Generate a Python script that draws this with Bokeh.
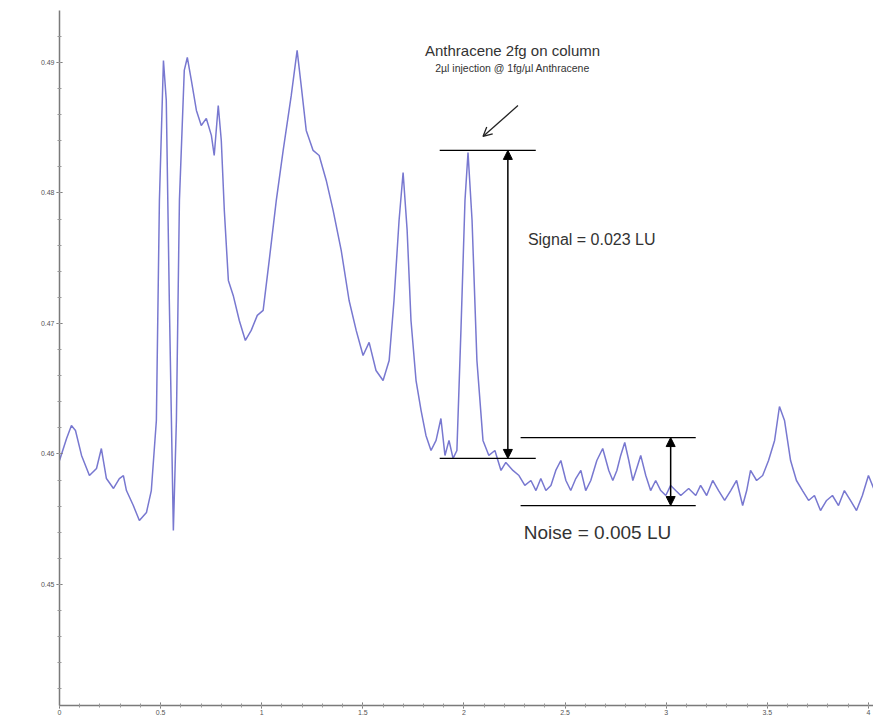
from bokeh.plotting import figure
from bokeh.models import Range1d, SingleIntervalTicker, Arrow, NormalHead, OpenHead, Label, ColumnDataSource
from bokeh.embed import file_html
from bokeh.resources import INLINE

# Retention time (min) and detector response (LU)
time_min = [0.000, 0.035, 0.059, 0.079, 0.109, 0.148, 0.183, 0.207, 0.232, 0.267,
            0.296, 0.316, 0.331, 0.365, 0.395, 0.430, 0.454, 0.479, 0.494, 0.514,
            0.528, 0.543, 0.563, 0.578, 0.593, 0.617, 0.632, 0.652, 0.677, 0.701,
            0.726, 0.751, 0.765, 0.785, 0.800, 0.815, 0.835, 0.859, 0.889, 0.919,
            0.948, 0.978, 1.007, 1.037, 1.072, 1.106, 1.146, 1.175, 1.195, 1.220,
            1.254, 1.284, 1.319, 1.353, 1.393, 1.432, 1.467, 1.501, 1.531, 1.565,
            1.600, 1.630, 1.654, 1.679, 1.699, 1.719, 1.738, 1.763, 1.788, 1.812,
            1.837, 1.862, 1.886, 1.906, 1.926, 1.946, 1.965, 1.985, 2.005, 2.020,
            2.040, 2.064, 2.094, 2.123, 2.153, 2.183, 2.207, 2.242, 2.272, 2.301,
            2.331, 2.356, 2.380, 2.405, 2.430, 2.454, 2.479, 2.504, 2.528, 2.553,
            2.578, 2.602, 2.627, 2.657, 2.686, 2.716, 2.736, 2.756, 2.775, 2.795,
            2.815, 2.835, 2.854, 2.874, 2.899, 2.923, 2.948, 2.973, 2.998, 3.022,
            3.047, 3.072, 3.111, 3.146, 3.170, 3.200, 3.230, 3.259, 3.289, 3.319,
            3.348, 3.378, 3.398, 3.417, 3.447, 3.477, 3.506, 3.536, 3.560, 3.585,
            3.615, 3.644, 3.674, 3.704, 3.733, 3.763, 3.793, 3.822, 3.852, 3.881,
            3.911, 3.941, 3.970, 4.000, 4.030]
response_lu = [0.45950, 0.46119, 0.46218, 0.46180, 0.45989, 0.45835, 0.45889, 0.46042, 0.45812, 0.45736,
               0.45812, 0.45835, 0.45720, 0.45605, 0.45490, 0.45552, 0.45720, 0.46257, 0.47943, 0.49015,
               0.48709, 0.47176, 0.45414, 0.46257, 0.47943, 0.48939, 0.49038, 0.48862, 0.48632, 0.48517,
               0.48571, 0.48441, 0.48287, 0.48670, 0.48402, 0.47866, 0.47330, 0.47215, 0.47023, 0.46870,
               0.46947, 0.47062, 0.47100, 0.47483, 0.47943, 0.48326, 0.48747, 0.49092, 0.48824, 0.48479,
               0.48326, 0.48287, 0.48096, 0.47866, 0.47560, 0.47176, 0.46947, 0.46755, 0.46855, 0.46640,
               0.46563, 0.46716, 0.47176, 0.47789, 0.48157, 0.47713, 0.47023, 0.46563, 0.46333, 0.46142,
               0.46027, 0.46104, 0.46272, 0.45989, 0.46104, 0.45966, 0.46027, 0.46947, 0.47943, 0.48310,
               0.47789, 0.46716, 0.46104, 0.45989, 0.46027, 0.45874, 0.45935, 0.45874, 0.45835, 0.45759,
               0.45797, 0.45720, 0.45812, 0.45720, 0.45759, 0.45874, 0.45950, 0.45797, 0.45720, 0.45812,
               0.45874, 0.45720, 0.45797, 0.45950, 0.46042, 0.45874, 0.45797, 0.45874, 0.45989, 0.46088,
               0.45950, 0.45797, 0.45889, 0.45989, 0.45835, 0.45720, 0.45797, 0.45720, 0.45682, 0.45759,
               0.45720, 0.45682, 0.45736, 0.45682, 0.45759, 0.45682, 0.45797, 0.45720, 0.45644, 0.45720,
               0.45797, 0.45605, 0.45720, 0.45874, 0.45797, 0.45835, 0.45950, 0.46104, 0.46364, 0.46257,
               0.45950, 0.45797, 0.45720, 0.45644, 0.45682, 0.45567, 0.45644, 0.45682, 0.45605, 0.45720,
               0.45644, 0.45567, 0.45682, 0.45835, 0.45720]

# Annotation levels (LU) and their time spans (min)
signal_top = 0.48326
signal_base = 0.45966
signal_span = [1.88, 2.355]
signal_time = 2.217
noise_top = 0.46126
noise_bottom = 0.45605
noise_span = [2.28, 3.146]
noise_time = 3.022
pointer_from = (2.267, 0.48670)
pointer_to = (2.094, 0.48433)

title_text = "Anthracene 2fg on column"
subtitle_text = "2µl injection @ 1fg/µl Anthracene"
signal_text = "Signal = 0.023 LU"
noise_text = "Noise = 0.005 LU"

FONT = "Liberation Sans"
TXT = "#333333"

p = figure(width=873, height=717, output_backend="svg", toolbar_location=None,
           x_range=Range1d(0, 4.025), y_range=Range1d(0.44073, 0.49398),
           min_border_left=59, min_border_right=0, min_border_top=10, min_border_bottom=12)
p.outline_line_color = None
p.xgrid.visible = False
p.ygrid.visible = False
p.background_fill_color = "white"

for ax in (p.xaxis[0], p.yaxis[0]):
    ax.axis_line_color = "#7a7a7a"
    ax.axis_line_width = 1.5
    ax.major_tick_line_color = "#666666"
    ax.minor_tick_line_color = "#999999"
    ax.major_tick_in = 3
    ax.major_tick_out = 3
    ax.minor_tick_in = 2
    ax.minor_tick_out = 2
    ax.major_label_text_font = FONT
    ax.major_label_text_font_size = "7px"
    ax.major_label_text_color = "#555555"
    ax.major_label_standoff = 2

p.xaxis[0].ticker = SingleIntervalTicker(interval=0.5, num_minor_ticks=5)
p.yaxis[0].ticker = SingleIntervalTicker(interval=0.01, num_minor_ticks=5)
p.xaxis[0].major_label_standoff = 1

src = ColumnDataSource(dict(t=time_min, v=response_lu))
p.line("t", "v", source=src, line_color="#7878d0", line_width=1.5)

# Signal markers
p.line(signal_span, [signal_top, signal_top], line_color="black", line_width=1.3)
p.line(signal_span, [signal_base, signal_base], line_color="black", line_width=1.3)
p.add_layout(Arrow(x_start=signal_time, y_start=signal_base, x_end=signal_time, y_end=signal_top,
                   line_color="black", line_width=1.5,
                   start=NormalHead(size=9, fill_color="black", line_color="black"),
                   end=NormalHead(size=9, fill_color="black", line_color="black")))

# Noise markers
p.line(noise_span, [noise_top, noise_top], line_color="black", line_width=1.3)
p.line(noise_span, [noise_bottom, noise_bottom], line_color="black", line_width=1.3)
p.add_layout(Arrow(x_start=noise_time, y_start=noise_bottom, x_end=noise_time, y_end=noise_top,
                   line_color="black", line_width=1.5,
                   start=NormalHead(size=9, fill_color="black", line_color="black"),
                   end=NormalHead(size=9, fill_color="black", line_color="black")))

# Pointer arrow
p.add_layout(Arrow(x_start=pointer_from[0], y_start=pointer_from[1], x_end=pointer_to[0], y_end=pointer_to[1],
                   line_color="#222222", line_width=1.3,
                   end=OpenHead(size=9, line_color="#222222", line_width=1.3)))

p.add_layout(Label(x=2.24, y=0.49030, text=title_text, text_font=FONT, text_font_size="15px",
                   text_color=TXT, text_align="center", text_baseline="bottom"))
p.add_layout(Label(x=2.24, y=0.48954, text=subtitle_text, text_font=FONT, text_font_size="10.5px",
                   text_color=TXT, text_align="center", text_baseline="middle"))
p.add_layout(Label(x=2.316, y=0.47640, text=signal_text, text_font=FONT, text_font_size="16px",
                   text_color=TXT, text_align="left", text_baseline="middle"))
p.add_layout(Label(x=2.296, y=0.45399, text=noise_text, text_font=FONT, text_font_size="19px",
                   text_color=TXT, text_align="left", text_baseline="middle"))

open("out.html", "w").write(file_html(p, INLINE))
